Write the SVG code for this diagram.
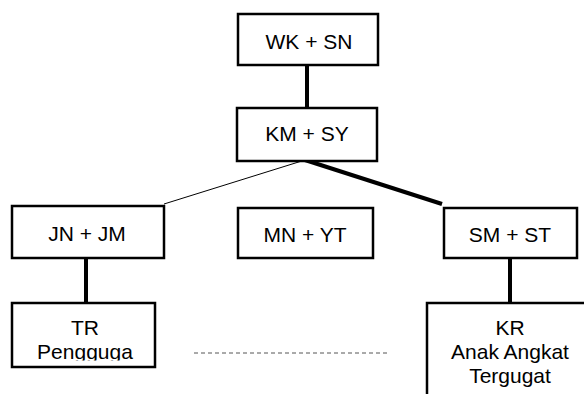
<svg xmlns="http://www.w3.org/2000/svg" width="584" height="394" viewBox="0 0 584 394">
<style>
.box{fill:#fff;stroke:#000;stroke-width:2.5}
.t{font-family:"Liberation Sans",Arial,sans-serif;font-size:21px;fill:#000;text-anchor:middle}
.thick{stroke:#000;stroke-width:4;fill:none}
.thin{stroke:#000;stroke-width:1;fill:none}
.dash{stroke:#555;stroke-width:1;stroke-dasharray:4 3;fill:none}
</style>
<defs>
<clipPath id="clipTR"><rect x="14" y="304" width="140" height="56.5"/></clipPath>
</defs>
<rect width="584" height="394" fill="#fff"/>
<g id="connectors">
<line class="thick" x1="307" y1="62" x2="307" y2="108"/>
<line class="thin" x1="305" y1="160" x2="164" y2="204"/>
<line class="thick" x1="305" y1="160" x2="442" y2="204"/>
<line class="thick" x1="86" y1="253" x2="86" y2="303"/>
<line class="thick" x1="510" y1="255" x2="510" y2="303"/>
<line class="dash" x1="194" y1="353" x2="387" y2="353"/>
</g>
<g id="wksn">
<rect class="box" x="238" y="14" width="140" height="51"/>
<text class="t" x="309" y="49">WK + SN</text>
</g>
<g id="kmsy">
<rect class="box" x="237" y="108" width="140" height="53"/>
<text class="t" x="307" y="141">KM + SY</text>
</g>
<g id="jnjm">
<rect class="box" x="12" y="206" width="152" height="52"/>
<text class="t" x="87" y="241">JN + JM</text>
</g>
<g id="mnyt">
<rect class="box" x="238" y="208" width="135" height="50"/>
<text class="t" x="305" y="242">MN + YT</text>
</g>
<g id="smst">
<rect class="box" x="444" y="208" width="133" height="50"/>
<text class="t" x="510" y="242">SM + ST</text>
</g>
<g id="tr">
<rect class="box" x="12" y="303" width="143" height="64"/>
<g clip-path="url(#clipTR)">
<text class="t" x="85" y="335">TR</text>
<text class="t" x="85" y="359">Pengguga</text>
</g>
</g>
<g id="kr">
<rect class="box" x="427" y="303" width="170" height="110"/>
<text class="t" x="510" y="335">KR</text>
<text class="t" x="510" y="359">Anak Angkat</text>
<text class="t" x="510" y="383">Tergugat</text>
</g>
</svg>
